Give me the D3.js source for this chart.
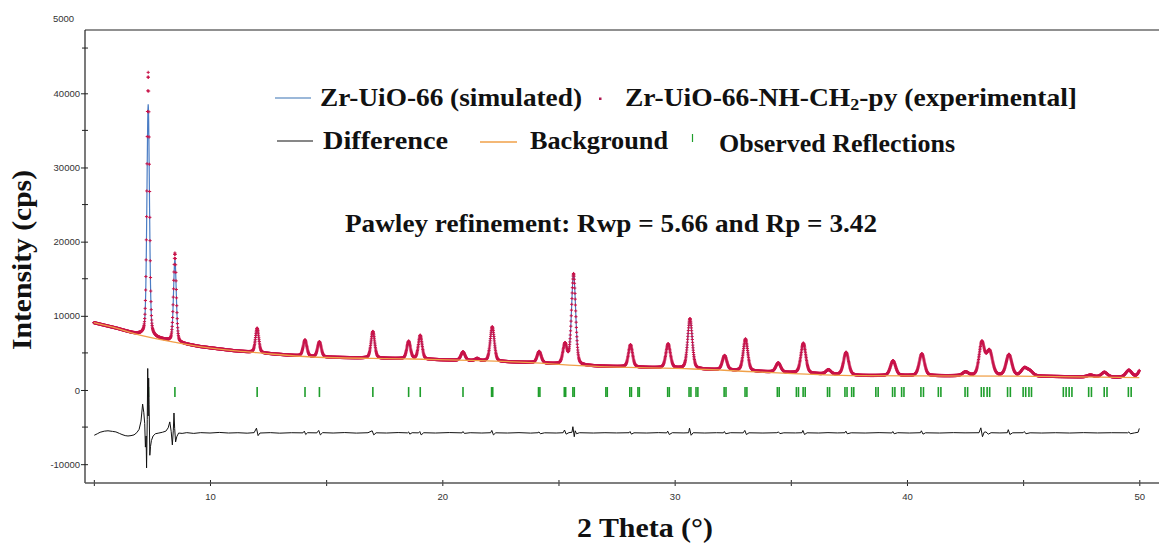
<!DOCTYPE html>
<html>
<head>
<meta charset="utf-8">
<script src="https://cdn.jsdelivr.net/npm/d3@7"></script>
<style>
  body { margin: 0; background: #fff; }
  svg { display: block; }
  .tick text { font-family: "Liberation Sans", Arial, sans-serif; font-size: 9.5px; fill: #333; }
  .serif { font-family: "Liberation Serif", "Times New Roman", serif; font-weight: bold; fill: #111; }
</style>
</head>
<body>
<svg id="chart" width="1159" height="545"></svg>
<script>
// Background curve knots (2θ in degrees, intensity in cps)
const bgX = [5.0, 6.0, 6.7, 8.57, 9.57, 11.0, 12.0, 14.4, 18.7, 23.8, 25.9, 30.8, 38.0, 44.7, 50.0];
const bgY = [9070, 8300, 7640, 6380, 5840, 5300, 5030, 4450, 4180, 3690, 3280, 2830, 1930, 1870, 1660];

// Fitted peaks: position (°2θ), observed height, calculated height, FWHM (°)
const peakPos  = [7.34, 8.49, 12.03, 14.09, 14.71, 17.01, 18.55, 19.05, 20.89, 21.5, 22.15, 24.17, 25.28, 25.65, 28.10, 29.72, 30.66, 32.15, 33.05, 34.46, 35.54, 36.62, 37.38, 39.40, 40.64, 42.52, 43.22, 43.55, 44.39, 45.05, 45.30, 47.90, 48.50, 49.55, 50.15];
const peakObs  = [35600, 12000, 3300, 2200, 2050, 3600, 2350, 3200, 1150, 300, 4650, 1550, 2700, 12300, 3000, 3250, 6750, 1950, 4300, 1250, 4050, 600, 3050, 2000, 2950, 500, 4400, 3300, 2850, 1000, 600, 250, 650, 950, 1800];
const peakCalc = [31300, 11100, 3300, 2200, 2050, 3600, 2350, 3200, 1150, 300, 4650, 1550, 2700, 12300, 3000, 3250, 6750, 1950, 4300, 1250, 4050, 600, 3050, 2000, 2950, 500, 4400, 3300, 2850, 1000, 600, 250, 650, 950, 1800];
const peakFwhm = [0.13, 0.14, 0.17, 0.19, 0.19, 0.19, 0.19, 0.19, 0.21, 0.21, 0.21, 0.21, 0.21, 0.21, 0.21, 0.23, 0.23, 0.23, 0.23, 0.25, 0.25, 0.25, 0.26, 0.27, 0.27, 0.29, 0.27, 0.31, 0.29, 0.31, 0.31, 0.31, 0.31, 0.31, 0.31];

// Reflection positions (Kα1 / Kα2) in °2θ
const reflections = [7.35, 8.49, 12.03, 14.09, 14.71, 17.01, 18.55, 19.05, 20.89, 22.12, 22.17, 24.14, 24.20,
  25.25, 25.31, 25.62, 25.68, 27.04, 27.10, 28.07, 28.14, 28.42, 28.48, 29.70, 29.77, 30.62, 30.70, 30.92, 31.00,
  32.13, 32.21, 33.03, 33.11, 34.42, 34.50, 35.24, 35.33, 35.53, 35.62, 36.58, 36.67, 37.33, 37.42, 37.62, 37.71,
  38.66, 38.76, 39.38, 39.48, 39.77, 39.87, 40.60, 40.71, 41.35, 41.46, 42.50, 42.61, 43.20, 43.31, 43.45, 43.56,
  44.33, 44.45, 45.00, 45.11, 45.25, 45.36, 46.73, 46.85, 46.98, 47.10, 47.82, 47.94, 48.49, 48.61, 49.53, 49.65];

// Difference curve (observed − calculated, offset), [2θ, cps]
const diffPoints = [[5.02,-6100],[5.15,-5900],[5.27,-5700],[5.45,-5550],[5.61,-5500],[5.8,-5580],[5.95,-5650],[6.1,-5850],[6.21,-6000],[6.35,-6150],[6.47,-6200],[6.6,-6150],[6.73,-6050],[6.85,-5750],[6.95,-5300],[7.03,-4200],[7.10,-1900],[7.15,-3000],[7.19,-4500],[7.22,-7700],[7.25,-6200],[7.27,-10500],[7.30,-4000],[7.32,2900],[7.34,-3500],[7.36,1600],[7.38,-2000],[7.41,-8800],[7.44,-7600],[7.48,-6800],[7.55,-6200],[7.65,-5900],[7.8,-5800],[7.95,-5700],[8.1,-5550],[8.2,-5100],[8.27,-4300],[8.33,-5600],[8.38,-7400],[8.42,-5500],[8.45,-3100],[8.48,-5200],[8.52,-7000],[8.57,-6300],[8.65,-5800],[8.8,-5850],[9.0,-5750],[9.3,-5850],[9.6,-5750],[10.0,-5800],[10.4,-5720],[10.8,-5800],[11.2,-5760],[11.6,-5820],[11.9,-5750],[12.0,-5150],[12.07,-6150],[12.15,-5800],[12.6,-5750],[13.0,-5820],[13.5,-5760],[14.0,-5780],[14.06,-5550],[14.12,-6000],[14.2,-5760],[14.6,-5780],[14.68,-5450],[14.75,-6050],[14.85,-5750],[15.3,-5800],[15.8,-5740],[16.3,-5810],[16.8,-5760],[16.98,-5500],[17.05,-6050],[17.15,-5770],[17.6,-5800],[18.1,-5740],[18.5,-5780],[18.55,-5650],[18.6,-5950],[18.7,-5760],[18.98,-5780],[19.03,-5600],[19.09,-6050],[19.2,-5760],[19.7,-5800],[20.3,-5740],[20.85,-5780],[20.89,-5600],[20.95,-5850],[21.2,-5760],[21.7,-5800],[22.08,-5760],[22.13,-5450],[22.2,-6050],[22.3,-5770],[22.8,-5800],[23.3,-5750],[23.8,-5810],[24.12,-5760],[24.16,-5650],[24.22,-5900],[24.4,-5770],[24.9,-5800],[25.2,-5760],[25.26,-5400],[25.33,-5950],[25.45,-5750],[25.58,-5700],[25.62,-4950],[25.68,-6300],[25.72,-5500],[25.78,-5900],[25.9,-5760],[26.5,-5800],[27.0,-5760],[27.5,-5790],[28.04,-5760],[28.08,-5600],[28.14,-5950],[28.25,-5770],[28.8,-5800],[29.3,-5750],[29.66,-5780],[29.7,-5550],[29.77,-6000],[29.9,-5760],[30.4,-5790],[30.6,-5760],[30.64,-5150],[30.71,-6100],[30.8,-5760],[31.3,-5800],[31.8,-5760],[32.1,-5780],[32.14,-5600],[32.2,-5900],[32.4,-5760],[32.95,-5780],[33.02,-5450],[33.09,-6000],[33.2,-5770],[33.8,-5800],[34.4,-5760],[34.47,-5650],[34.53,-5880],[34.7,-5770],[35.2,-5790],[35.48,-5760],[35.52,-5450],[35.59,-6000],[35.7,-5770],[36.2,-5800],[36.6,-5750],[37.0,-5790],[37.33,-5760],[37.37,-5550],[37.43,-5900],[37.6,-5770],[38.2,-5800],[38.8,-5750],[39.35,-5790],[39.39,-5600],[39.45,-5900],[39.6,-5760],[40.1,-5800],[40.58,-5760],[40.62,-5500],[40.69,-5950],[40.8,-5770],[41.4,-5800],[42.0,-5750],[42.5,-5780],[43.1,-5760],[43.18,-5100],[43.25,-6300],[43.32,-5700],[43.4,-5650],[43.5,-5950],[43.62,-5760],[44.0,-5790],[44.32,-5760],[44.36,-5350],[44.43,-6000],[44.55,-5770],[45.0,-5760],[45.05,-5600],[45.12,-5900],[45.3,-5770],[45.8,-5800],[46.4,-5760],[47.0,-5800],[47.6,-5750],[48.2,-5790],[48.8,-5760],[49.5,-5770],[49.55,-5650],[49.61,-5900],[49.8,-5780],[49.95,-5700],[50.0,-5180]];

// Axis ticks
const xTicks = [5, 10, 15, 20, 25, 30, 35, 40, 45, 50];
const xTickLabels = ["", "10", "", "20", "", "30", "", "40", "", "50"];
const yMajor = [-10000, 0, 10000, 20000, 30000, 40000];
const yMajorLabels = ["-10000", "0", "10000", "20000", "30000", "40000"];
const yMinor = [-5000, 5000, 15000, 25000, 35000, 46100];
const yTopValue = 50000, yTopLabel = "5000";

// Scan range and step
const scanStart = 5.0, scanEnd = 50.0, scanStep = 0.01;

(function draw() {
  const svg = d3.select("#chart");
  const mL = 85, mT = 30, mB = 483, mR = 1159;

  const x = d3.scaleLinear().domain([4.62, 50.848]).range([mL, mR]);
  const y = d3.scaleLinear().domain([-12538, 48534]).range([mB, mT]);

  // Background lookup (piecewise between knots)
  const bgAt = d3.scaleLinear().domain(bgX).range(bgY).clamp(true);

  // Pseudo-Voigt peak shape with a small Lorentzian fraction
  const eta = 0.3;
  function pseudoVoigt(t2, c, h, fwhm) {
    const t = (t2 - c) / (fwhm / 2);
    return h * (eta / (1 + t * t) + (1 - eta) * Math.exp(-Math.LN2 * t * t));
  }
  function profile(t2, heights) {
    let s = bgAt(t2);
    for (let i = 0; i < peakPos.length; i++) s += pseudoVoigt(t2, peakPos[i], heights[i], peakFwhm[i]);
    return s;
  }

  const scan = d3.range(scanStart, scanEnd + scanStep / 2, scanStep);
  const obs = scan.map(t => [t, profile(t, peakObs)]);
  const calc = scan.map(t => [t, profile(t, peakCalc)]);

  const g = svg.append("g");

  // Calculated pattern
  g.append("path")
    .attr("d", d3.line().x(d => x(d[0])).y(d => y(d[1]))(calc))
    .attr("fill", "none").attr("stroke", "#4a7cc4").attr("stroke-width", 1.2);

  // Observed pattern as "+" markers
  let markerPath = "";
  obs.forEach(d => {
    const px = x(d[0]), py = y(d[1]);
    markerPath += `M${(px - 1.6).toFixed(2)},${py.toFixed(2)}h3.2M${px.toFixed(2)},${(py - 1.6).toFixed(2)}v3.2`;
  });
  g.append("path").attr("d", markerPath)
    .attr("fill", "none").attr("stroke", "#c8144a").attr("stroke-width", 1);

  // Background
  g.append("path")
    .attr("d", d3.line().x(d => x(d)).y(d => y(bgAt(d))).curve(d3.curveMonotoneX)(bgX))
    .attr("fill", "none").attr("stroke", "#f0a048").attr("stroke-width", 1.3);

  // Reflection ticks
  g.selectAll("line.refl").data(reflections).join("line")
    .attr("class", "refl")
    .attr("x1", d => x(d)).attr("x2", d => x(d))
    .attr("y1", y(400)).attr("y2", y(-950))
    .attr("stroke", "#1f9e2c").attr("stroke-width", 1.6);

  // Difference curve
  g.append("path")
    .attr("d", d3.line().x(d => x(d[0])).y(d => y(d[1]))(diffPoints))
    .attr("fill", "none").attr("stroke", "#111").attr("stroke-width", 1);

  // Axes
  const yAxis = d3.axisLeft(y).tickValues(yMajor).tickFormat((d, i) => yMajorLabels[i]).tickSize(4).tickPadding(5);
  const ya = svg.append("g").attr("transform", `translate(${mL},0)`).call(yAxis);
  ya.select(".domain").remove();
  ya.selectAll(".tick line").attr("x1", 3).attr("x2", -4).attr("stroke", "#222");
  ya.selectAll(".tick text").attr("x", -5);
  svg.append("g").selectAll("line").data(yMinor).join("line")
    .attr("x1", mL - 3).attr("x2", mL + 3)
    .attr("y1", d => y(d)).attr("y2", d => y(d)).attr("stroke", "#222");
  svg.append("text").attr("x", 53).attr("y", y(yTopValue)).attr("dy", "0.32em")
    .attr("font-family", "Liberation Sans, Arial, sans-serif").attr("font-size", 9.5).attr("fill", "#333")
    .text(yTopLabel);

  const xAxis = d3.axisBottom(x).tickValues(xTicks).tickFormat((d, i) => xTickLabels[i]).tickSize(3).tickPadding(7);
  const xa = svg.append("g").attr("transform", `translate(0,${mB})`).call(xAxis);
  xa.select(".domain").remove();
  xa.selectAll(".tick line").attr("y1", -3).attr("y2", 3).attr("stroke", "#222");

  // Frame
  svg.append("line").attr("x1", mL).attr("x2", mL).attr("y1", mT).attr("y2", mB).attr("stroke", "#222").attr("stroke-width", 1.2);
  svg.append("line").attr("x1", mL).attr("x2", mR).attr("y1", mT).attr("y2", mT).attr("stroke", "#222").attr("stroke-width", 1.2);
  svg.append("line").attr("x1", mL).attr("x2", mR).attr("y1", mB).attr("y2", mB).attr("stroke", "#555").attr("stroke-width", 1.6);

  // Text helper: bold serif text fitted to a given width
  function label(parent, px, py, size, width, txt, anchor) {
    return parent.append("text").attr("class", "serif").attr("x", px).attr("y", py)
      .attr("font-size", size).attr("text-anchor", anchor || "start")
      .attr("textLength", width).attr("lengthAdjust", "spacingAndGlyphs").text(txt);
  }

  // Axis titles
  label(svg, 645, 537, 27, 136, "2 Theta (°)", "middle");
  svg.append("text").attr("class", "serif").attr("transform", "translate(31,260) rotate(-90)")
    .attr("text-anchor", "middle").attr("font-size", 27)
    .attr("textLength", 180).attr("lengthAdjust", "spacingAndGlyphs").text("Intensity (cps)");

  // Legend
  const leg = svg.append("g");
  leg.append("line").attr("x1", 275).attr("x2", 311).attr("y1", 98).attr("y2", 98).attr("stroke", "#7aa0cc").attr("stroke-width", 1.3);
  label(leg, 320, 106, 26, 262, "Zr-UiO-66 (simulated)");
  leg.append("rect").attr("x", 599).attr("y", 97.5).attr("width", 2.5).attr("height", 2.5).attr("fill", "#b01850");
  const t2 = leg.append("text").attr("class", "serif").attr("x", 625).attr("y", 106).attr("font-size", 26)
    .attr("textLength", 452).attr("lengthAdjust", "spacingAndGlyphs");
  t2.append("tspan").text("Zr-UiO-66-NH-CH");
  t2.append("tspan").attr("font-size", 17).attr("dy", 4).text("2");
  t2.append("tspan").attr("dy", -4).text("-py (experimental]");

  leg.append("line").attr("x1", 277).attr("x2", 313).attr("y1", 141).attr("y2", 141).attr("stroke", "#111").attr("stroke-width", 1.2);
  label(leg, 323, 149, 26, 125, "Difference");
  leg.append("line").attr("x1", 480).attr("x2", 517).attr("y1", 142).attr("y2", 142).attr("stroke", "#f0a048").attr("stroke-width", 1.3);
  label(leg, 530, 149, 26, 138, "Background");
  leg.append("line").attr("x1", 692.5).attr("x2", 692.5).attr("y1", 134).attr("y2", 142).attr("stroke", "#1f9e2c").attr("stroke-width", 1.2);
  label(leg, 719, 152, 26, 236, "Observed Reflections");

  label(svg, 611, 232, 25, 532, "Pawley refinement: Rwp = 5.66 and Rp = 3.42", "middle");
})();
</script>
</body>
</html>
